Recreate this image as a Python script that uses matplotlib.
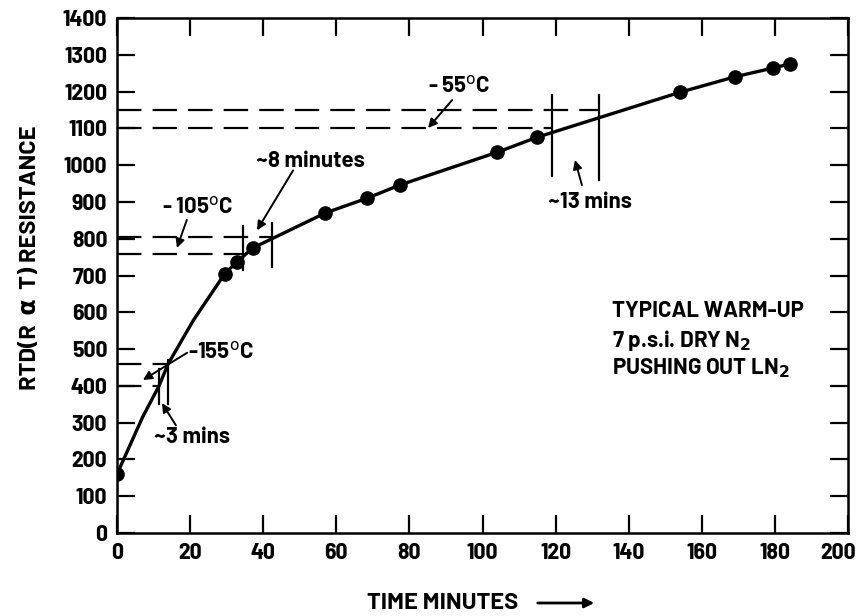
import matplotlib
matplotlib.use("Agg")
import matplotlib.pyplot as plt
from matplotlib.transforms import ScaledTranslation

# ---- data ----
marker_t = [0, 29.5, 32.8, 37.2, 57, 68.4, 77.4, 104, 115, 154, 169, 179.5, 184]
marker_r = [160, 705, 737, 775, 870, 910, 946, 1035, 1076, 1198, 1240, 1264, 1275]
# points (incl. segment without markers)
curve_t = [0, 7, 11.5, 14, 21, 29.5, 32.8, 37.2, 57, 68.4, 77.4, 104, 115, 154, 169, 179.5, 184]
curve_r = [160, 315, 400, 460, 580, 705, 737, 775, 870, 910, 946, 1035, 1076, 1198, 1240, 1264, 1275]

# temperature reference levels (resistance) and where they meet the curve
levels_r = [400, 460, 758, 805, 1100, 1150]
levels_end_t = [11.5, 14, 34.2, 42.3, 118.8, 131.9]
# vertical bracket marks (time, r_low, r_high)
marks_t = [11.5, 14, 34.4, 42.3, 118.9, 131.9]
marks_lo = [350, 350, 715, 723, 970, 960]
marks_hi = [445, 470, 834, 842, 1190, 1190]

x_ticks = [0, 20, 40, 60, 80, 100, 120, 140, 160, 180, 200]
y_ticks = list(range(0, 1401, 100))

TICKFONT = ['Barlow Semi Condensed', 'DejaVu Sans']
FONT = ['Barlow', 'DejaVu Sans']

fig = plt.figure(figsize=(8.63, 6.16), dpi=100)
ax = fig.add_axes([117/863, 1-533/616, (848-117)/863, (533-18)/616])

ax.plot(curve_t, curve_r, color='black', lw=2.4, solid_capstyle='round', zorder=3)
ax.plot(marker_t, marker_r, 'o', color='black', ms=9.5, zorder=4)

for r, te in zip(levels_r, levels_end_t):
    ax.plot([0, te], [r, r], color='black', lw=1.6, dashes=(11, 5), zorder=2)
for t, lo, hi in zip(marks_t, marks_lo, marks_hi):
    ax.plot([t, t], [lo, hi], color='black', lw=1.6, zorder=2)

ax.set_xlim(0, 200)
ax.set_ylim(0, 1400)
ax.set_xticks(x_ticks)
ax.set_yticks(y_ticks)
ax.tick_params(direction='in', length=13, width=1.6, top=True, right=True,
               labelsize=17, pad=7, color='black')
for lab in ax.get_xticklabels() + ax.get_yticklabels():
    lab.set_family(TICKFONT)
    lab.set_fontweight('bold')
last = ax.get_xticklabels()[-1]
last.set_transform(last.get_transform() + ScaledTranslation(-10/100, 0, fig.dpi_scale_trans))
for s in ax.spines.values():
    s.set_linewidth(1.8)

arrow = dict(arrowstyle='-|>', lw=1.4, color='black', mutation_scale=13,
             shrinkA=0, shrinkB=0)
tkw = dict(family=FONT, fontweight='bold', fontsize=16, color='black')

# annotations
ax.text(19.5, 493, u'-155$^{\\mathrm{o}}$C', ha='left', va='center', **tkw)
ax.annotate('', xy=(7.1, 416), xytext=(19.2, 490), arrowprops=arrow)
ax.text(10, 260, u'~3 mins', ha='left', va='center', **tkw)
ax.annotate('', xy=(12.3, 353), xytext=(16.1, 293), arrowprops=arrow)
ax.text(22, 888, u'- 105$^{\\mathrm{o}}$C', ha='center', va='center', **tkw)
ax.annotate('', xy=(16.4, 775), xytext=(19.1, 851), arrowprops=arrow)
ax.text(53, 1012, u'~8 minutes', ha='center', va='center', **tkw)
ax.annotate('', xy=(38.3, 823), xytext=(48.2, 986), arrowprops=arrow)
ax.text(93.6, 1217, u'- 55$^{\\mathrm{o}}$C', ha='center', va='center', **tkw)
ax.annotate('', xy=(85.1, 1101), xytext=(91.7, 1177), arrowprops=arrow)
ax.text(129.5, 900, u'~13 mins', ha='center', va='center', **tkw)
ax.annotate('', xy=(125.3, 1014), xytext=(127.2, 946), arrowprops=arrow)

ax.text(135.4, 603, 'TYPICAL WARM-UP', ha='left', va='center', **tkw)
ax.text(135.4, 524, r'7 p.s.i. DRY N$_{\mathbf{2}}$', ha='left', va='center', **tkw)
ax.text(135.4, 448, r'PUSHING OUT LN$_{\mathbf{2}}$', ha='left', va='center', **tkw)

# axis labels
lkw = dict(tkw, fontsize=17)
fig.text(30/863, 1-258/616, u'RTD(R  \u03b1  T) RESISTANCE', rotation=90,
         ha='center', va='center', **lkw)
fig.text(443/863, 1-603/616, 'TIME MINUTES', ha='center', va='center', **lkw)
fig.patches.append(matplotlib.patches.FancyArrowPatch(
    (535/863, 1-603/616), (597/863, 1-603/616), transform=fig.transFigure,
    arrowstyle='-|>', mutation_scale=14, lw=2, color='black'))

fig.savefig('out.png', dpi=100)
